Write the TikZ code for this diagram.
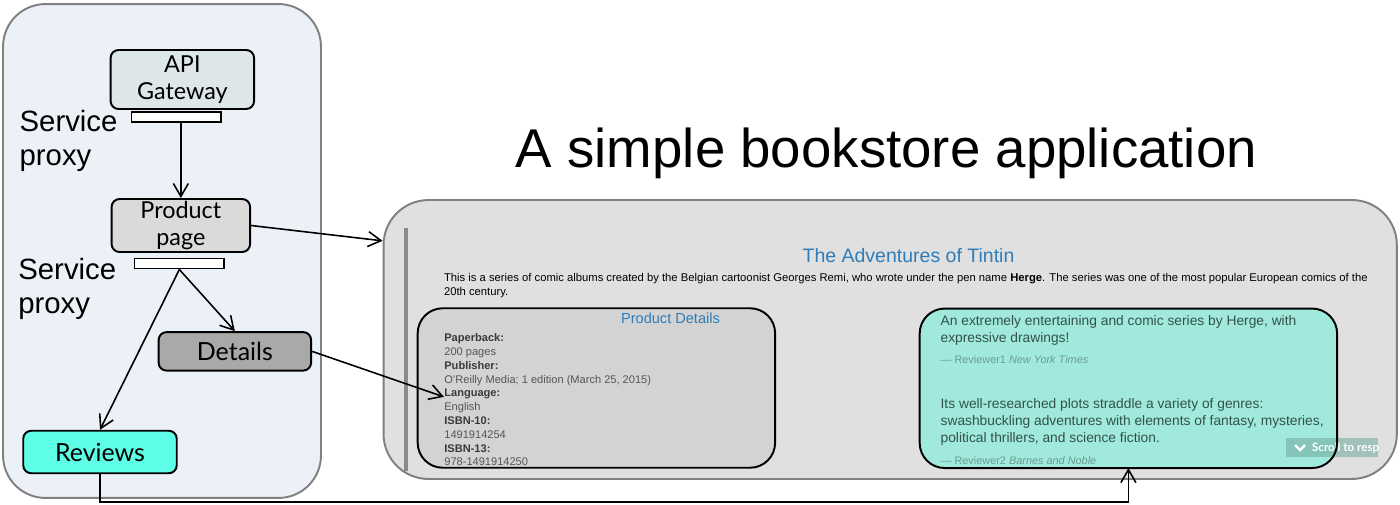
\documentclass[tikz,border=0pt]{standalone}
\usepackage{fontspec}
\setmainfont{Liberation Sans}
\newfontfamily\boxfont{Lato}
\usetikzlibrary{arrows.meta,positioning}
\definecolor{meshbg}{HTML}{ECF1F8}
\definecolor{panelline}{HTML}{808080}
\definecolor{gwfill}{HTML}{DEE7E7}
\definecolor{prodfill}{HTML}{DADADA}
\definecolor{detfill}{HTML}{A9A9A9}
\definecolor{revfill}{HTML}{5EFDE5}
\definecolor{appfill}{HTML}{E0E0E0}
\definecolor{pdfill}{HTML}{D3D3D3}
\definecolor{rpfill}{HTML}{A0E9DC}
\definecolor{webblue}{HTML}{2F7DB8}
\definecolor{rvtext}{HTML}{33524C}
\definecolor{rvnote}{HTML}{6B9C93}
\definecolor{pdkeyc}{HTML}{3A3A3A}
\definecolor{pdvalc}{HTML}{555555}
\definecolor{scrollfill}{HTML}{6FA89D}
\definecolor{barc}{HTML}{8A8A8A}

\begin{document}
\begin{tikzpicture}[
		x=0.02cm, y=-0.02cm,
		panel/.style={rectangle, draw=panelline, line width=1.1pt, inner sep=0pt},
		svcbox/.style={rectangle, rounded corners=4.5pt, draw=black, line width=1.1pt,
				inner sep=0pt, align=center},
		twoline/.style={font=\boxfont\fontsize{13.3}{15.6}\selectfont},
		oneline/.style={font=\boxfont\fontsize{14.2}{16}\selectfont},
		proxy/.style={rectangle, draw=black, fill=white, line width=0.9pt,
				minimum width=1.79cm, minimum height=0.2cm, inner sep=0pt},
		proxylbl/.style={anchor=north west, inner sep=0pt, align=left,
				font=\fontsize{16.7}{19.3}\selectfont},
		arr/.style={-{Straight Barb[length=2.6mm, width=3mm]}, line width=0.9pt},
		card/.style={rectangle, rounded corners=0.5cm, inner sep=0pt, outer sep=0pt},
		cardline/.style={draw=black, line width=1.1pt, rounded corners=0.5cm},
		intro/.style={anchor=base west, inner sep=0pt, font=\fontsize{6.4}{7.4}\selectfont},
		pdkey/.style={anchor=base west, inner sep=0pt, text=pdkeyc,
				font=\fontsize{6.3}{7.9}\selectfont\bfseries},
		pdval/.style={anchor=base west, inner sep=0pt, text=pdvalc,
				font=\fontsize{6.3}{7.9}\selectfont},
		rvline/.style={anchor=base west, inner sep=0pt, text=rvtext,
				font=\fontsize{7.85}{9.6}\selectfont},
		rvby/.style={anchor=base west, inner sep=0pt, text=rvnote,
				font=\fontsize{6.2}{7.5}\selectfont},
	]
	\useasboundingbox (0,0) rectangle (1400,504);

	% Mesh side
	\node[panel, rounded corners=0.85cm, fill=meshbg, minimum width=6.36cm,
		minimum height=9.88cm] (mesh) at (162,251) {};
	\node[svcbox, twoline, fill=gwfill, minimum width=2.87cm, minimum height=1.18cm]
	(gw) at (182.35,79.5) {API\\Gateway};
	\node[proxy] (px1) at (176.35,117) {};
	\node[proxylbl] (sp1) at (19.3,110) {Service\\proxy};

	\node[svcbox, twoline, fill=prodfill, minimum width=2.77cm, minimum height=1.06cm]
	(prod) at (180.85,225.5) {Product\\page};
	\node[proxy] (px2) at (179.35,263.7) {};
	\node[proxylbl] (sp2) at (18,257.8) {Service\\proxy};

	\node[svcbox, oneline, fill=detfill, minimum width=3.05cm, minimum height=0.77cm]
	(det) at (234.85,351.35) {Details};
	\node[svcbox, oneline, fill=revfill, minimum width=3.07cm, minimum height=0.85cm]
	(rev) at (100,452) {Reviews};

	% Title
	\node[anchor=base, inner sep=0pt, font=\fontsize{31.1}{36}\selectfont]
	(title) at (886.5,167) {A simple bookstore application};

	% Web page
	\node[panel, rounded corners=0.9cm, fill=appfill, minimum width=20.27cm,
		minimum height=5.58cm] (app) at (890.2,339.5) {};
	\draw[barc, line width=1.8pt] (406,228) -- (406,471);

	\node[anchor=base, inner sep=0pt, text=webblue, font=\fontsize{11.1}{13}\selectfont]
	(tintin) at (908.5,262.5) {The Adventures of Tintin};
	\node[intro] (intro1) at (443.7,281) {This is a series of comic albums created by the Belgian cartoonist Georges Remi, who wrote under the pen name \textbf{Herge}. The series was one of the most popular European comics of the};
	\node[intro] (intro2) at (443.7,295) {20th century.};

	% Product details card
	\node[card, fill=pdfill, draw=black, line width=1.1pt, minimum width=7.15cm,
		minimum height=3.19cm] (pd) at (596.4,388) {};
	\node[anchor=base, inner sep=0pt, text=webblue, font=\fontsize{8.3}{10}\selectfont]
	(pdtitle) at (670.5,323.3) {Product Details};
	\node[pdkey] (pb)   at (444,341.7) {Paperback:};
	\node[pdval] (pbv)  at (444,355.5) {200 pages};
	\node[pdkey] (pub)  at (444,369.3) {Publisher:};
	\node[pdval] (pubv) at (444,383.1) {O'Reilly Media; 1 edition (March 25, 2015)};
	\node[pdkey] (lang) at (444,396.9) {Language:};
	\node[pdval] (langv) at (444,410.7) {English};
	\node[pdkey] (i10)  at (444,424.5) {ISBN-10:};
	\node[pdval] (i10v) at (444,438.3) {1491914254};
	\node[pdkey] (i13)  at (444,452.1) {ISBN-13:};
	\node[pdval] (i13v) at (444,465.9) {978-1491914250};

	% Reviews card
	\node[card, fill=rpfill, minimum width=8.35cm, minimum height=3.19cm]
	(rp) at (1128.4,388.3) {};
	\node[rvline] (r1a) at (940.3,325.3) {An extremely entertaining and comic series by Herge, with};
	\node[rvline] (r1b) at (940.3,342.5) {expressive drawings!};
	\node[rvby]   (r1c) at (940.3,363.3) {— Reviewer1 \textit{New York Times}};
	\node[rvline] (r2a) at (940.3,408.5) {Its well-researched plots straddle a variety of genres:};
	\node[rvline] (r2b) at (940.3,425.5) {swashbuckling adventures with elements of fantasy, mysteries,};
	\node[rvline] (r2c) at (940.3,442.4) {political thrillers, and science fiction.};
	\node[rvby]   (r2d) at (940.3,464) {— Reviewer2 \textit{Barnes and Noble}};

	\node[rectangle, fill=scrollfill, fill opacity=0.55, inner sep=0pt,
		minimum width=1.85cm, minimum height=0.39cm] (scroll) at (1331.85,447.5) {};
	\begin{scope}
		\clip (scroll.south west) rectangle (scroll.north east);
		\draw[white, line width=1.4pt] (1295,445) -- (1300,450) -- (1305,445);
		\node[anchor=base west, inner sep=0pt, text=white,
			font=\boxfont\bfseries\fontsize{6.6}{8}\selectfont]
		(scrolltxt) at (1311.7,451) {Scroll to resp};
	\end{scope}
	\draw[cardline] (rp.south west) rectangle (rp.north east);

	% Connections
	\draw[arr] (px1.south -| prod.north) -- (prod.north);
	\draw[arr] (px2.south) -- (det.north);
	\draw[arr] (px2.south) -- (rev.north);
	\draw[arr] (prod.east) -- (app.169);
	\draw[arr] (det.east)  -- (lang.base west);
	\draw[arr] (rev.south) -- ++(0,28) -| (rp.south);

\end{tikzpicture}
\end{document}
